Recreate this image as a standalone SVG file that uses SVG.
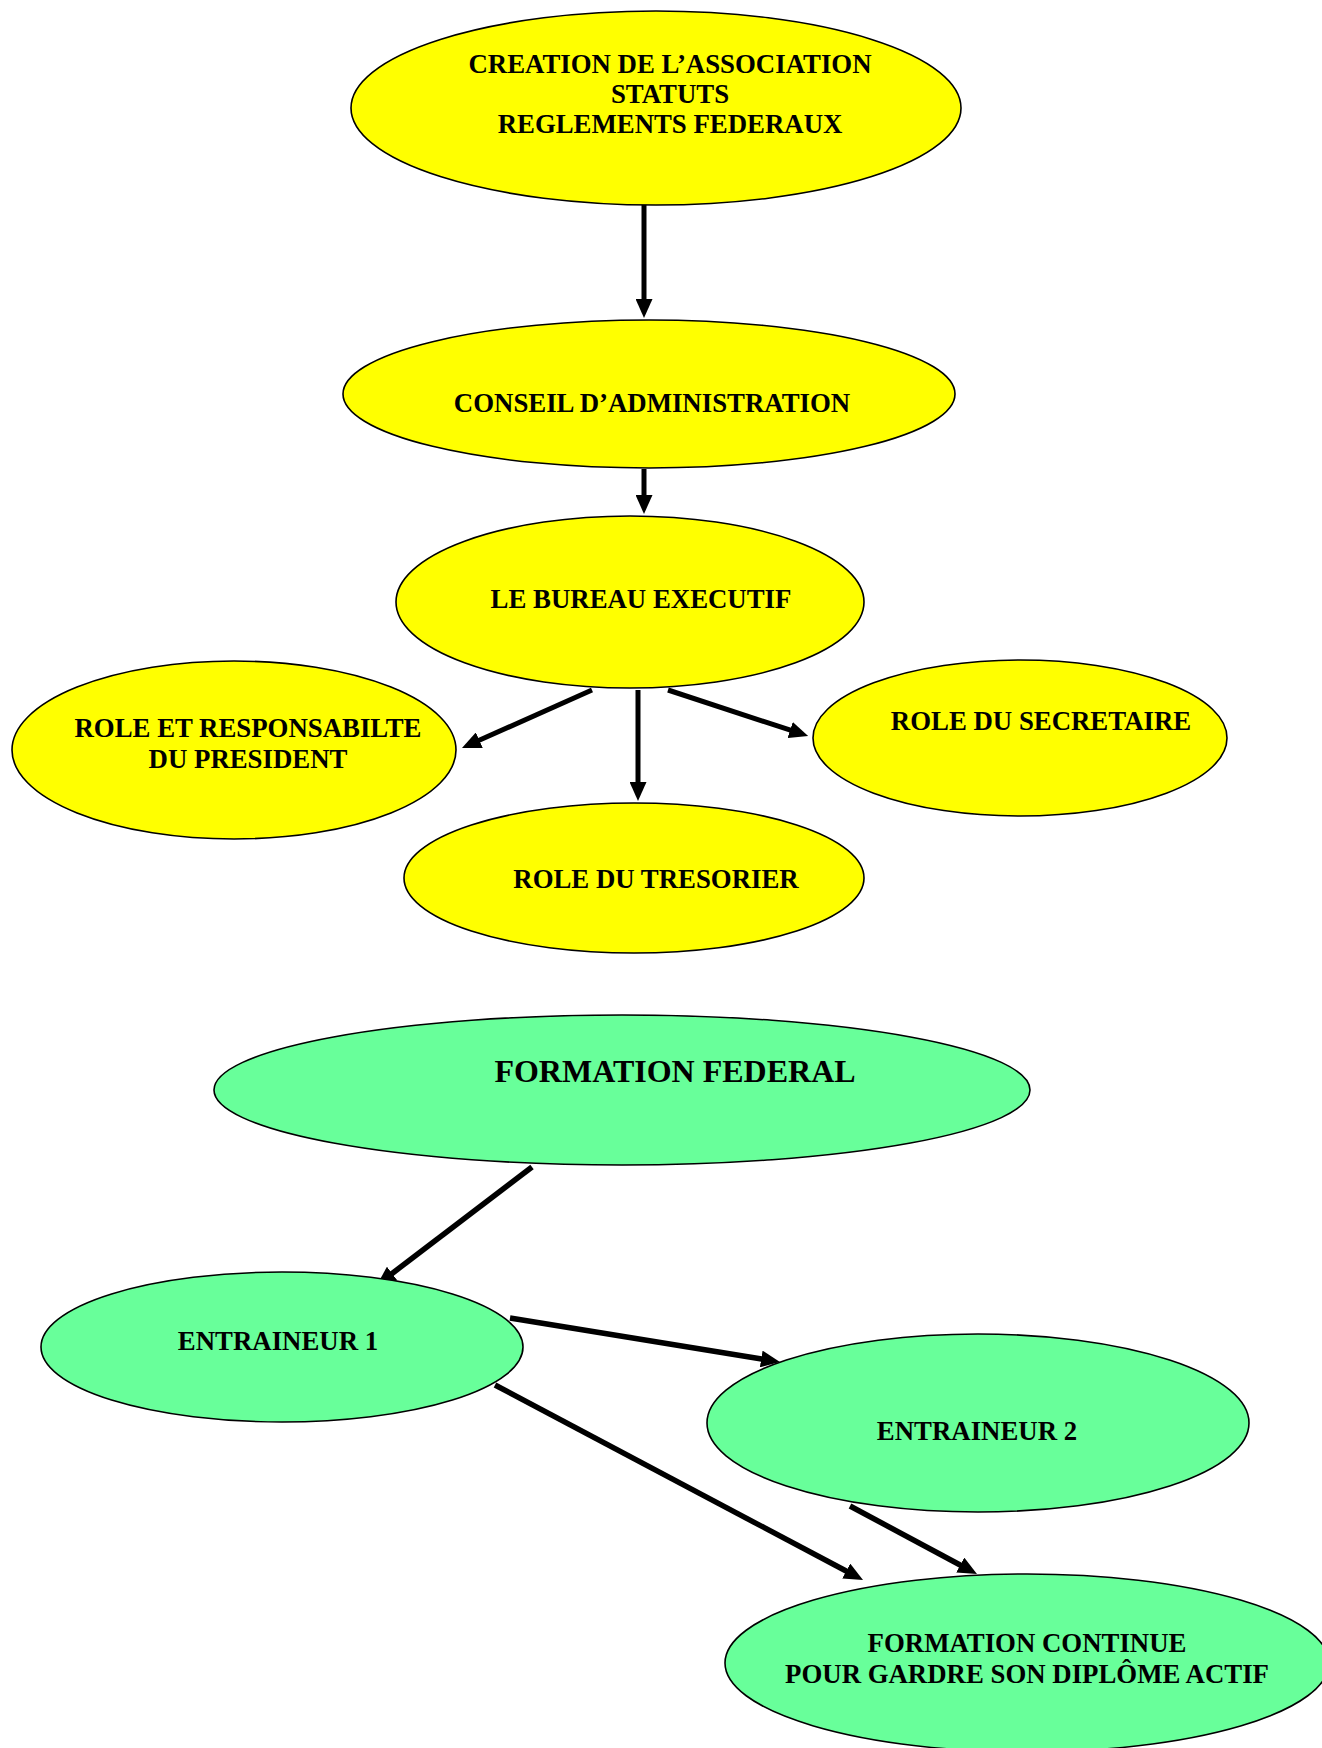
<svg xmlns="http://www.w3.org/2000/svg" width="1322" height="1748" viewBox="0 0 1322 1748">
<style>
.y{fill:#FFFF00;stroke:#000;stroke-width:1.6}
.g{fill:#68FF9A;stroke:#000;stroke-width:1.6}
.t{font-family:"Liberation Serif","Times New Roman",serif;font-weight:bold;font-size:26.8px;fill:#000;text-anchor:middle}
.tl{font-size:32px}
.c{stroke:#000;stroke-width:5;fill:none;marker-end:url(#ah)}
.c2{stroke-width:5.5}
</style>
<defs>
<marker id="ah" markerUnits="userSpaceOnUse" markerWidth="19" markerHeight="17" refX="2" refY="8.5" orient="auto" viewBox="0 0 19 17">
<path d="M0,0 L19,8.5 L0,17 z" fill="#000"/>
</marker>
</defs>
<rect width="1322" height="1748" fill="#fff"/>
<g id="connectors">
<line class="c" x1="644" y1="205" x2="644" y2="301"/>
<line class="c" x1="644" y1="469" x2="644" y2="497"/>
<line class="c" x1="592" y1="690" x2="477.5" y2="741"/>
<line class="c" x1="638" y1="690" x2="638" y2="784"/>
<line class="c" x1="668" y1="690" x2="792" y2="730.7"/>
<line class="c c2" x1="532" y1="1167" x2="390.5" y2="1274.7"/>
<line class="c c2" x1="510" y1="1318" x2="763.2" y2="1359.3"/>
<line class="c c2" x1="495" y1="1385" x2="848" y2="1572"/>
<line class="c c2" x1="850" y1="1506" x2="962" y2="1566"/>
</g>
<g id="creation">
<ellipse class="y" cx="656" cy="108" rx="305" ry="97"/>
<text class="t" x="670" y="73">CREATION DE L’ASSOCIATION</text>
<text class="t" x="670" y="103">STATUTS</text>
<text class="t" x="670" y="133">REGLEMENTS FEDERAUX</text>
</g>
<g id="conseil">
<ellipse class="y" cx="649" cy="394" rx="306" ry="74"/>
<text class="t" x="652" y="412">CONSEIL D’ADMINISTRATION</text>
</g>
<g id="bureau">
<ellipse class="y" cx="630" cy="602" rx="234" ry="86"/>
<text class="t" x="641" y="608">LE BUREAU EXECUTIF</text>
</g>
<g id="president">
<ellipse class="y" cx="234" cy="750" rx="222" ry="89"/>
<text class="t" x="248" y="737">ROLE ET RESPONSABILTE</text>
<text class="t" x="248" y="768">DU PRESIDENT</text>
</g>
<g id="secretaire">
<ellipse class="y" cx="1020" cy="738" rx="207" ry="78"/>
<text class="t" x="1041" y="730">ROLE DU SECRETAIRE</text>
</g>
<g id="tresorier">
<ellipse class="y" cx="634" cy="878" rx="230" ry="75"/>
<text class="t" x="656" y="888">ROLE DU TRESORIER</text>
</g>
<g id="formation-federal">
<ellipse class="g" cx="622" cy="1090" rx="408" ry="75"/>
<text class="t tl" x="675" y="1082">FORMATION FEDERAL</text>
</g>
<g id="entraineur1">
<ellipse class="g" cx="282" cy="1347" rx="241" ry="75"/>
<text class="t" x="278" y="1350">ENTRAINEUR 1</text>
</g>
<g id="entraineur2">
<ellipse class="g" cx="978" cy="1423" rx="271" ry="89"/>
<text class="t" x="977" y="1440">ENTRAINEUR 2</text>
</g>
<g id="formation-continue">
<ellipse class="g" cx="1027" cy="1663" rx="302" ry="89"/>
<text class="t" x="1027" y="1652">FORMATION CONTINUE</text>
<text class="t" x="1027" y="1683">POUR GARDRE SON DIPLÔME ACTIF</text>
</g>
</svg>
